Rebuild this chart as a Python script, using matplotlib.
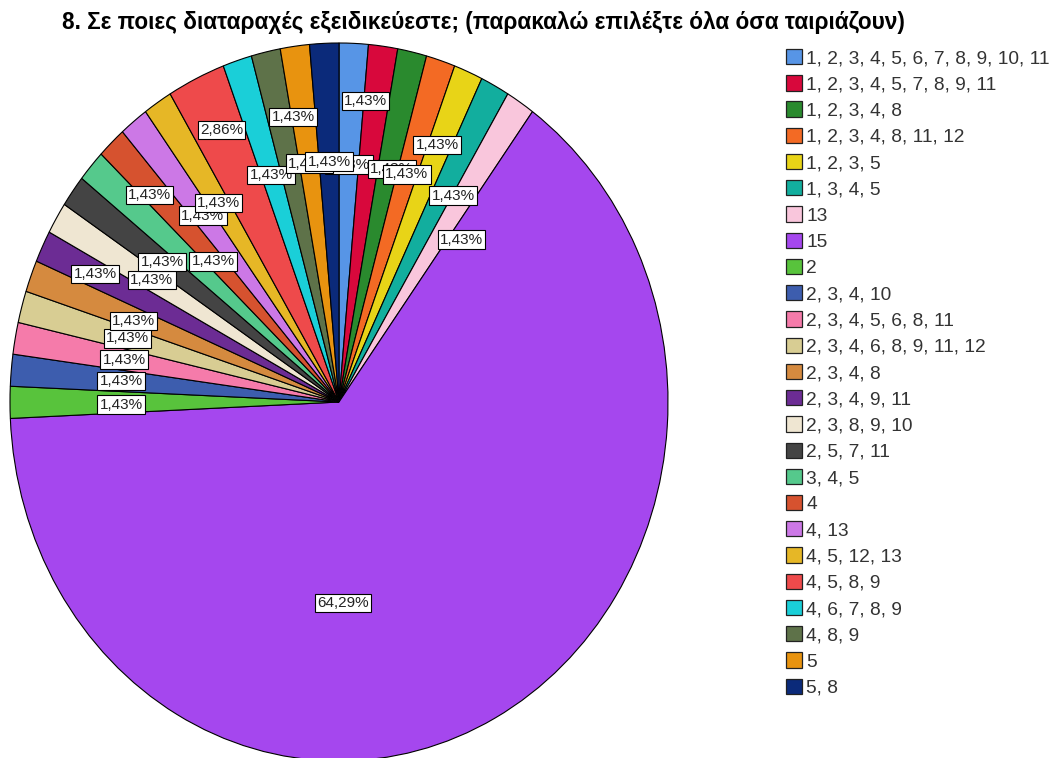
import matplotlib
matplotlib.use("Agg")
import matplotlib.pyplot as plt
from matplotlib.patches import Patch
import numpy as np

plt.rcParams['font.family'] = ['Liberation Sans', 'DejaVu Sans']

# ---- data ----
categories = [
    "1, 2, 3, 4, 5, 6, 7, 8, 9, 10, 11",
    "1, 2, 3, 4, 5, 7, 8, 9, 11",
    "1, 2, 3, 4, 8",
    "1, 2, 3, 4, 8, 11, 12",
    "1, 2, 3, 5",
    "1, 3, 4, 5",
    "13",
    "15",
    "2",
    "2, 3, 4, 10",
    "2, 3, 4, 5, 6, 8, 11",
    "2, 3, 4, 6, 8, 9, 11, 12",
    "2, 3, 4, 8",
    "2, 3, 4, 9, 11",
    "2, 3, 8, 9, 10",
    "2, 5, 7, 11",
    "3, 4, 5",
    "4",
    "4, 13",
    "4, 5, 12, 13",
    "4, 5, 8, 9",
    "4, 6, 7, 8, 9",
    "4, 8, 9",
    "5",
    "5, 8",
]
percents = [1.43, 1.43, 1.43, 1.43, 1.43, 1.43, 1.43,
            64.29,
            1.43, 1.43, 1.43, 1.43, 1.43, 1.43, 1.43, 1.43, 1.43, 1.43, 1.43, 1.43,
            2.86,
            1.43, 1.43, 1.43, 1.43]

colors = ["#5795E6", "#D8083C", "#2A8A2E", "#F36A24", "#E8D417", "#12AE9E",
          "#F9C6DC", "#A547EE", "#58C33C", "#3D5DAE", "#F57BAA", "#D8CD93",
          "#D58A3F", "#6C2C94", "#EFE6D2", "#444444", "#55C98C", "#D6522F",
          "#CC78E6", "#E6B726", "#EE4A4B", "#1ACFD8", "#5E7249", "#E8930F",
          "#0B2A7A"]

title = "8. Σε ποιες διαταραχές εξειδικεύεστε; (παρακαλώ επιλέξτε όλα όσα ταιριάζουν)"

# label placement styling (radius fraction, angular nudge in degrees, clockwise)
label_r = [0.662, 0.842, 0.669, 0.667, 0.776, 0.671, 0.586, 0.56,
           0.662, 0.665, 0.664, 0.667, 0.664, 0.822, 0.663, 0.664,
           0.815, 0.548, 0.664, 0.665, 0.838, 0.665, 0.806, 0.67, 0.67]
label_dt = [0, -2.2, 1.0, 0, -0.5, 2.8, 6.0, 27.1,
            -0.6, 0, 0, 0, -0.7, 0, 0, 0,
            3.9, -0.6, 0, 0, 0.5, 0, 2.9, 0, 0]

W, H = 1057, 758
fig = plt.figure(figsize=(W / 100, H / 100), dpi=100)

# pie axes (elliptical pie, stretched vertically)
ax = fig.add_axes([10 / W, (H - 761) / H, 658 / W, 718 / H])
wedges, _ = ax.pie(percents, colors=colors, startangle=90, counterclock=False,
                   radius=1.0,
                   wedgeprops=dict(edgecolor="black", linewidth=0.8))
for w in wedges:
    w.set_clip_on(False)
ax.set_aspect('auto')
ax.set_xlim(-1, 1)
ax.set_ylim(-1, 1)
ax.axis('off')

for i, (w, v) in enumerate(zip(wedges, percents)):
    mid = 0.5 * (w.theta1 + w.theta2)          # mpl angle, ccw from +x
    theta_c = 90 - mid + label_dt[i]           # clockwise from top
    t = np.deg2rad(theta_c)
    x = label_r[i] * np.sin(t)
    y = label_r[i] * np.cos(t)
    txt = ("%.2f" % v).replace(".", ",") + "%"
    ax.text(x, y, txt, ha="center", va="center", fontsize=11, color="#222222",
            zorder=10 + i,
            bbox=dict(boxstyle="square,pad=0.15", facecolor="white",
                      edgecolor="black", linewidth=0.8))

fig.text(62 / W, 1 - 22 / H, title, ha="left", va="center",
         fontsize=16.3, fontweight="bold", color="black")

handles = [Patch(facecolor=c, edgecolor="#222222", linewidth=0.9) for c in colors]
leg = fig.legend(handles, categories, loc="upper left",
                 bbox_to_anchor=(786 / W, 1 - 49 / H),
                 frameon=False, fontsize=13.8, borderpad=0, borderaxespad=0,
                 handlelength=0.85, handleheight=0.85, handletextpad=0.2,
                 labelspacing=0.415)
for t in leg.get_texts():
    t.set_color("#333333")

fig.savefig("out.png", dpi=100, facecolor="white")
